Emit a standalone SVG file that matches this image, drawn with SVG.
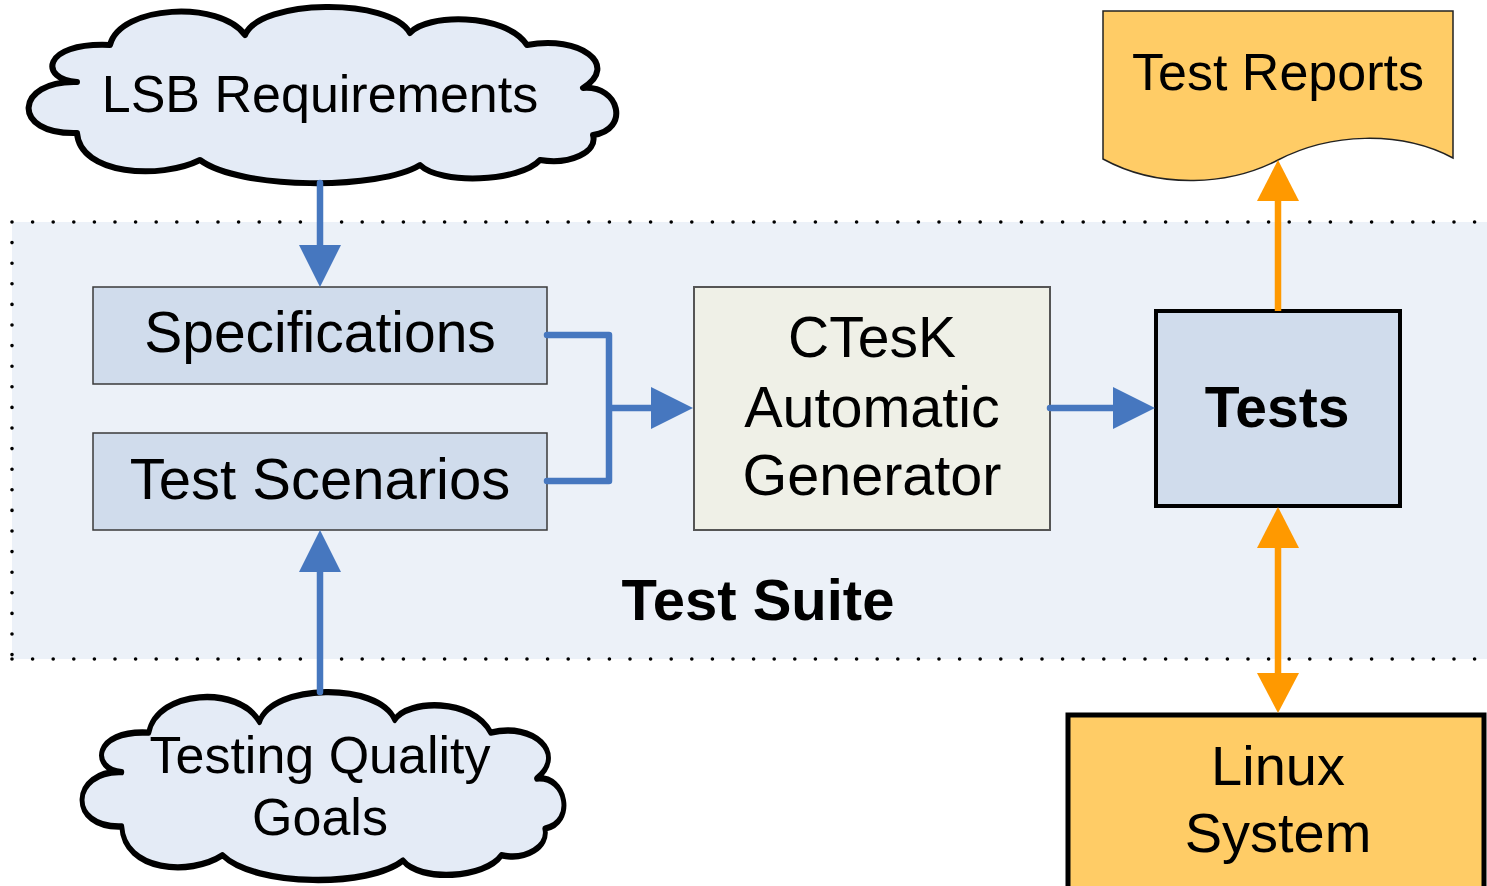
<svg xmlns="http://www.w3.org/2000/svg" width="1487" height="886" viewBox="0 0 1487 886">
<defs>
<style>
.t{font-family:"Liberation Sans",Arial,sans-serif;fill:#000;text-anchor:middle}
.b{font-weight:bold}
.box{fill:#D0DCEC;stroke:#3a3a3a;stroke-width:1.5}
.cloud{fill:#E4EBF6;stroke:#000;stroke-width:6;stroke-linejoin:round}
.bl{fill:none;stroke:#4677BF;stroke-width:6.5;stroke-linecap:round;stroke-linejoin:round}
.or{fill:none;stroke:#FF9900;stroke-width:6.5}
.bh{fill:#4677BF}
.oh{fill:#FF9900}
</style>
<path id="cloudShape" d="M77,82 C40,80 40,42 110,45 C120,5 220,0 245,35 C260,-1 390,-3 410,33 C425,14 505,12 527,45 C580,35 620,65 583,88 C620,85 630,130 593,135 C598,152 570,165 540,160 C520,182 440,185 420,165 C380,190 240,190 200,160 C160,180 80,175 77,133 C10,135 15,80 77,82 Z"/>
</defs>
<rect width="1487" height="886" fill="#fff"/>

<g id="test-suite">
<rect x="12" y="222" width="1490" height="437" fill="#ECF1F8"/>
<path d="M12,222 H1487 M12,222 V659 M12,659 H1487" fill="none" stroke="#000" stroke-width="3.6" stroke-linecap="round" stroke-dasharray="0 20.6"/>
<text class="t b" x="758" y="620" font-size="58">Test Suite</text>
</g>

<g id="lsb-requirements">
<use href="#cloudShape" class="cloud"/>
<text class="t" x="320" y="112" font-size="52">LSB Requirements</text>
</g>

<g id="specifications">
<rect class="box" x="93" y="287" width="454" height="97"/>
<text class="t" x="320" y="352" font-size="57">Specifications</text>
</g>

<g id="test-scenarios">
<rect class="box" x="93" y="433" width="454" height="97"/>
<text class="t" x="320" y="499" font-size="58">Test Scenarios</text>
</g>

<g id="ctesk">
<rect x="694" y="287" width="356" height="243" fill="#EFF0E7" stroke="#555" stroke-width="2"/>
<text class="t" x="872" y="357" font-size="57">CTesK</text>
<text class="t" x="872" y="427" font-size="57.5">Automatic</text>
<text class="t" x="872" y="495" font-size="57.5">Generator</text>
</g>

<g id="tests">
<rect x="1156" y="311" width="244" height="195" fill="#D0DCEC" stroke="#000" stroke-width="4"/>
<text class="t b" x="1277" y="427" font-size="57">Tests</text>
</g>

<g id="test-reports">
<path d="M1103,11 H1453 V158 C1400,130 1330,133 1278,160 C1230,185 1160,190 1103,159 Z" fill="#FFCC66" stroke="#222" stroke-width="1.5"/>
<text class="t" x="1278" y="90" font-size="52">Test Reports</text>
</g>

<g id="linux-system">
<rect x="1068" y="715" width="416" height="180" fill="#FFCC66" stroke="#000" stroke-width="5"/>
<text class="t" x="1278" y="785" font-size="56">Linux</text>
<text class="t" x="1278" y="852" font-size="56">System</text>
</g>

<g id="testing-quality-goals">
<use href="#cloudShape" class="cloud" transform="translate(75,690) scale(0.82,1.066) translate(-20,-5)"/>
<text class="t" x="320" y="773" font-size="52">Testing Quality</text>
<text class="t" x="320" y="835" font-size="52">Goals</text>
</g>

<g id="connectors">
<path class="bl" d="M320,183 V250"/>
<polygon class="bh" points="299,245 341,245 320,287"/>
<path class="bl" d="M547,335 H609 V481 H547 M609,408 H656"/>
<polygon class="bh" points="651,387 651,429 693,408"/>
<path class="bl" d="M1050,408 H1118"/>
<polygon class="bh" points="1113,387 1113,429 1155,408"/>
<path class="bl" d="M320,692 V567"/>
<polygon class="bh" points="299,572 341,572 320,530"/>
<path class="or" d="M1278,311 V195"/>
<polygon class="oh" points="1257,201 1299,201 1278,160"/>
<path class="or" d="M1278,543 V678"/>
<polygon class="oh" points="1257,548 1299,548 1278,507"/>
<polygon class="oh" points="1257,673 1299,673 1278,713"/>
</g>
</svg>
